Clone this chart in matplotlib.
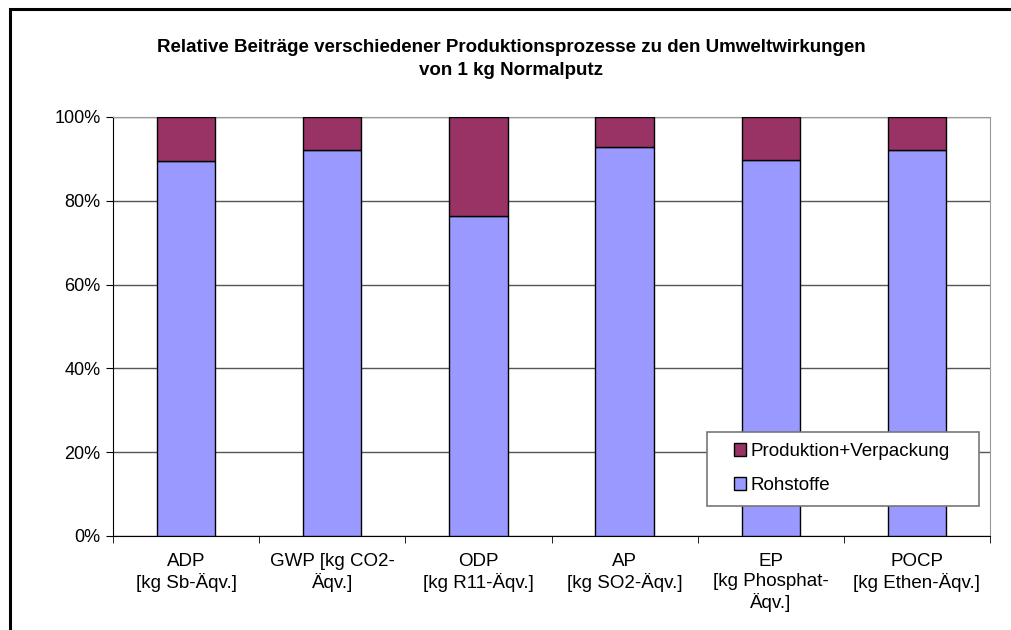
import numpy as np
import matplotlib.pyplot as plt
from matplotlib.patches import Rectangle
from matplotlib.ticker import FixedLocator, PercentFormatter

plt.rcParams['font.family'] = ['Liberation Sans', 'DejaVu Sans']

# data (percent of total)
categories = ['ADP\n[kg Sb-Äqv.]', 'GWP [kg CO2-\nÄqv.]', 'ODP\n[kg R11-Äqv.]',
              'AP\n[kg SO2-Äqv.]', 'EP\n[kg Phosphat-\nÄqv.]', 'POCP\n[kg Ethen-Äqv.]']
rohstoffe = [89.5, 92.2, 76.4, 92.9, 89.7, 92.2]
produktion = [100 - v for v in rohstoffe]

W, H = 1011, 630
fig = plt.figure(figsize=(W / 100, H / 100), dpi=100)
ax = fig.add_axes([113 / W, 1 - 536 / H, (990 - 113) / W, (536 - 117) / H])

# outer chart frame (runs off the right and bottom edges)
fig.patches.append(Rectangle((9.5 / W, -0.05), 1.2, 1 - 9.5 / H + 0.05,
                             transform=fig.transFigure, fill=False,
                             edgecolor='black', linewidth=2.2))

x = np.arange(len(categories))
ax.bar(x, rohstoffe, width=0.4, color='#9999FF', edgecolor='black',
       linewidth=1, label='Rohstoffe', zorder=3)
ax.bar(x, produktion, width=0.4, bottom=rohstoffe, color='#993366',
       edgecolor='black', linewidth=1, label='Produktion+Verpackung', zorder=3)

ax.set_xlim(-0.5, len(categories) - 0.5)
ax.set_ylim(0, 100)
ax.set_yticks(np.arange(0, 101, 20))
ax.yaxis.set_major_formatter(PercentFormatter(decimals=0))
ax.yaxis.grid(True, color='#555555', linewidth=1, zorder=0)

# category labels between boundary ticks, Excel style
ax.set_xticks(x)
ax.set_xticklabels(categories, fontsize=13.5, linespacing=1.24, va='top')
ax.tick_params(axis='x', length=0, pad=12)
ax.xaxis.set_minor_locator(FixedLocator(np.arange(-0.5, len(categories), 1)))
ax.tick_params(axis='x', which='minor', length=5, direction='out', color='black')
ax.tick_params(axis='y', length=5, direction='out', labelsize=13, pad=4)

for s in ['top', 'right']:
    ax.spines[s].set_color('#999999')
for s in ['left', 'bottom']:
    ax.spines[s].set_color('black')

# legend: box drawn separately so the inner padding matches the original
handles, labels = ax.get_legend_handles_labels()
leg = fig.legend(handles[::-1], labels[::-1], loc='upper left',
                 bbox_to_anchor=(734 / W, 1 - 443 / H), fontsize=13.5,
                 frameon=False, handlelength=0.65, handleheight=0.65,
                 handletextpad=0.25, labelspacing=0.92, borderpad=0,
                 borderaxespad=0)
leg.set_zorder(6)
fig.patches.append(Rectangle((707 / W, 1 - 506 / H), 272 / W, 74 / H,
                             transform=fig.transFigure, facecolor='white',
                             edgecolor='#777777', linewidth=1.2, zorder=5))

fig.text(511 / W, 1 - 52 / H,
         'Relative Beiträge verschiedener Produktionsprozesse zu den Umweltwirkungen',
         ha='center', va='baseline', fontsize=13.5, fontweight='bold')
fig.text(511 / W, 1 - 75 / H, 'von 1 kg Normalputz',
         ha='center', va='baseline', fontsize=13.5, fontweight='bold')

fig.savefig('out.png', dpi=100)
